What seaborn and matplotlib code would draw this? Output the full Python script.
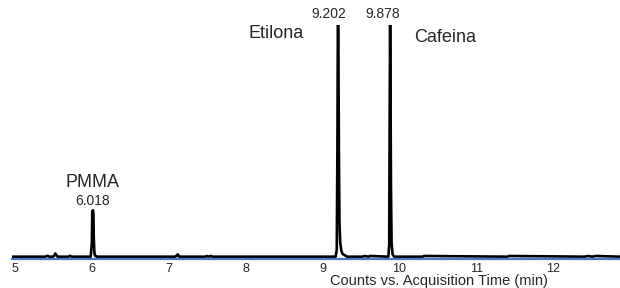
import matplotlib
matplotlib.use("Agg")
import matplotlib.pyplot as plt
import seaborn as sns
import pandas as pd

# chromatogram trace (time in min, relative counts)
time_min = [4.968, 5.40, 5.43, 5.45, 5.50, 5.52, 5.53, 5.545, 5.56, 5.70, 5.72, 5.74,
            5.99, 6.005, 6.010, 6.015, 6.020, 6.025, 6.030, 6.037, 6.045, 6.07,
            7.09, 7.11, 7.12, 7.14, 7.48, 7.50, 7.52, 7.55, 7.57,
            9.17, 9.185, 9.193, 9.198, 9.202, 9.207, 9.213, 9.22, 9.23, 9.245,
            9.26, 9.28, 9.30, 9.32, 9.52, 9.54, 9.60, 9.62,
            9.855, 9.866, 9.872, 9.878, 9.883, 9.889, 9.897, 9.91, 9.93,
            10.30, 10.32, 11.40, 11.42, 12.40, 12.45, 12.50, 12.55, 12.863]
counts = [0.0, 0.0, 0.004, 0.0, 0.0, 0.006, 0.014, 0.006, 0.0, 0.0, 0.004, 0.0,
          0.0, 0.06, 0.19, 0.20, 0.20, 0.19, 0.08, 0.02, 0.005, 0.0,
          0.0, 0.006, 0.01, 0.0, 0.0, 0.003, 0.0, 0.003, 0.0,
          0.0, 0.03, 0.45, 0.88, 1.0, 0.85, 0.45, 0.15, 0.06, 0.025,
          0.012, 0.008, 0.004, 0.0, 0.0, 0.003, 0.0, 0.003,
          0.0, 0.05, 0.6, 1.0, 0.75, 0.3, 0.06, 0.01, 0.0,
          0.0, 0.003, 0.0, 0.003, 0.0, 0.003, 0.0, 0.003, 0.0]

peak_rt = [6.018, 9.202, 9.878]
peak_top = [0.20, 1.0, 1.0]
rt_labels = ["6.018", "9.202", "9.878"]
compounds = ["PMMA", "Etilona", "Cafeina"]
ticks = [5, 6, 7, 8, 9, 10, 11, 12]

df = pd.DataFrame({"time": time_min, "counts": counts})

sns.set_style("white")
plt.rcParams["font.family"] = ["Liberation Sans", "DejaVu Sans"]

fig = plt.figure(figsize=(6.2, 2.88), dpi=100)
ax = fig.add_axes([12 / 620, 29 / 288, 608 / 620, 234 / 288])

sns.lineplot(data=df, x="time", y="counts", color="black", lw=1.9,
             estimator=None, sort=False, ax=ax)

ax.set_xlim(4.968, 12.863)
ax.set_ylim(-0.01, 1.0)
ax.set_xticks(ticks)
ax.set_xticklabels([str(t) for t in ticks], fontsize=9)
ax.set_yticks([])
ax.set_ylabel("")
for s in ["top", "right", "left"]:
    ax.spines[s].set_visible(False)
ax.spines["bottom"].set_color("#4a78c2")
ax.spines["bottom"].set_linewidth(1.6)
ax.tick_params(axis="x", direction="out", length=2.5, width=1, color="black", pad=0.5)

ax.set_xlabel("Counts vs. Acquisition Time (min)", fontsize=10.5, va="baseline")
ax.xaxis.set_label_coords((439 - 12) / 608, (259 - 285) / 234)

# retention time labels and compound names
rt_dx = [0, -9, -7]
rt_dy = [9, 11, 11]
name_off = [(0, 28), (-62, -9), (55, -13)]
for i in range(3):
    ax.annotate(rt_labels[i], (peak_rt[i], peak_top[i]), xytext=(rt_dx[i], rt_dy[i]),
                textcoords="offset pixels", ha="center", va="center", fontsize=10,
                annotation_clip=False)
    ax.annotate(compounds[i], (peak_rt[i], peak_top[i]), xytext=name_off[i],
                textcoords="offset pixels", ha="center", va="center", fontsize=13,
                annotation_clip=False)

fig.savefig("out.png", dpi=100)
